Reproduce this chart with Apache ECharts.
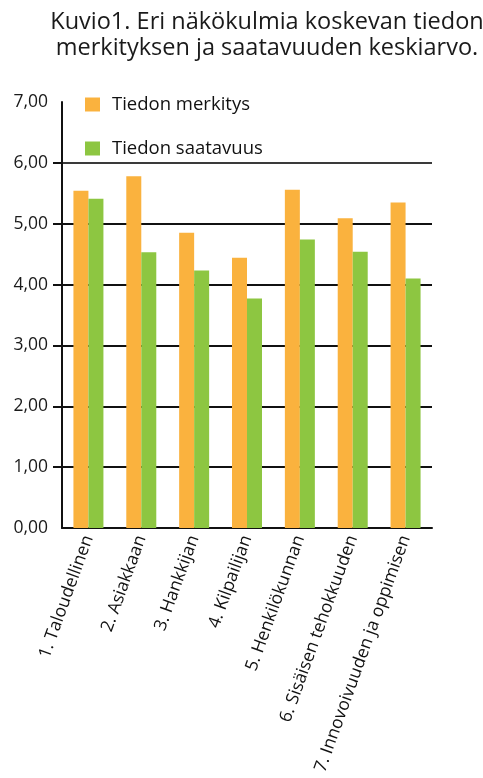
<!DOCTYPE html>
<html>
<head>
<meta charset="utf-8">
<script src="https://cdn.jsdelivr.net/npm/echarts@6/dist/echarts.min.js"></script>
<style>
  html, body { margin: 0; padding: 0; background: #fff; }
  #chart { width: 483px; height: 778px; }
</style>
</head>
<body>
<div id="chart"></div>
<script>
// Näkökulmat (kategoriat)
const categories = [
  '1. Taloudellinen',
  '2. Asiakkaan',
  '3. Hankkijan',
  '4. Kilpailijan',
  '5. Henkilökunnan',
  '6. Sisäisen tehokkuuden',
  '7. Innovoivuuden ja oppimisen'
];
// Keskiarvot
const merkitys = [5.54, 5.78, 4.85, 4.44, 5.56, 5.09, 5.35];
const saatavuus = [5.41, 4.53, 4.23, 3.77, 4.74, 4.54, 4.10];
const seriesNames = ['Tiedon merkitys', 'Tiedon saatavuus'];
const yMin = 0, yMax = 7, yStep = 1;
const yLabelValues = [0, 1, 2, 3, 4, 5, 6, 7];
// Väliviivat ja asteikon merkit arvoille 1–6
const yTickMarks = [1, 2, 3, 4, 5, 6];

const font = 'Open Sans';
const chart = echarts.init(document.getElementById('chart'));
chart.setOption({
  backgroundColor: '#fff',
  animation: false,
  title: {
    text: 'Kuvio1. Eri näkökulmia koskevan tiedon\nmerkityksen ja saatavuuden keskiarvo.',
    left: 262,
    top: 4,
    textAlign: 'center',
    textStyle: { fontFamily: font, fontSize: 23.5, fontWeight: 'normal', color: '#1a1a1a', lineHeight: 26 }
  },
  legend: {
    orient: 'vertical',
    left: 80,
    top: 90,
    itemWidth: 15,
    itemHeight: 14,
    itemGap: 25,
    icon: 'rect',
    data: seriesNames,
    textStyle: { fontFamily: font, fontSize: 18.5, color: '#111', padding: [0, 0, 0, 7] }
  },
  grid: { left: 62, right: 51, top: 102, bottom: 250, outerBoundsMode: 'none' },
  xAxis: {
    type: 'category',
    data: categories,
    axisLine: { lineStyle: { color: '#111', width: 2 } },
    axisTick: { show: false },
    axisLabel: { rotate: 70, margin: 8, fontFamily: font, fontSize: 17.5, color: '#111', interval: 0 }
  },
  yAxis: {
    type: 'value',
    min: yMin, max: yMax, interval: yStep,
    axisLine: { show: true, lineStyle: { color: '#111', width: 2 } },
    axisTick: { show: true, length: 9, inside: false, customValues: yTickMarks, lineStyle: { color: '#111', width: 2 } },
    axisLabel: {
      margin: 14, fontFamily: font, fontSize: 17.5, color: '#1a1a1a',
      customValues: yLabelValues,
      formatter: v => v.toFixed(2).replace('.', ',')
    },
    splitLine: {
      show: true, showMinLine: true, showMaxLine: true,
      lineStyle: { color: ['#111', '#111', '#111', '#111', '#111', '#3a3a3a'], width: 2 }
    }
  },
  series: [
    { name: seriesNames[0], type: 'bar', data: merkitys, barWidth: 15, barGap: '0%', itemStyle: { color: '#FAB23E' } },
    { name: seriesNames[1], type: 'bar', data: saatavuus, barWidth: 15, barGap: '0%', itemStyle: { color: '#8DC641' } }
  ]
});
</script>
</body>
</html>
